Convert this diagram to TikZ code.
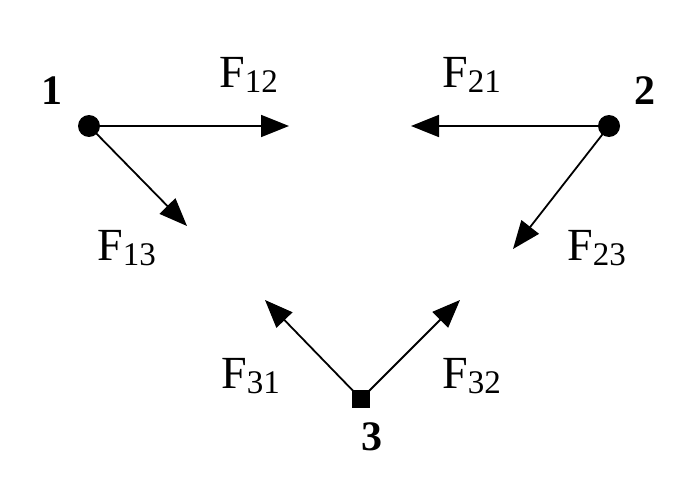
\documentclass[tikz,border=0pt]{standalone}
\usepackage{fontspec}
\setmainfont{Liberation Serif}
\usetikzlibrary{arrows.meta}
\newcommand{\Flab}[1]{{\fontsize{46}{50}\selectfont F\raisebox{-5pt}{\fontsize{33}{34}\selectfont #1}}}
\tikzset{
  force/.style={line width=1.8pt,-{Triangle[length=28pt,width=22pt]}},
  body/.style={circle,fill=black,inner sep=0pt,minimum size=22pt},
  sbody/.style={rectangle,fill=black,inner sep=0pt,minimum size=18pt},
  flabel/.style={anchor=base west,inner sep=0pt},
  num/.style={anchor=base west,inner sep=0pt,font=\fontsize{42}{46}\selectfont\bfseries}
}
\begin{document}
\begin{tikzpicture}[x=1pt,y=-1pt]
\useasboundingbox (0,0) rectangle (698,500);
\fill[white] (0,0) rectangle (698,500);
% bodies
\node[body] (b1) at (89,126) {};
\node[body] (b2) at (609,126) {};
\node[sbody] (b3) at (361,399) {};
% tips
\coordinate (t12) at (289,126);
\coordinate (t13) at (187,226);
\coordinate (t21) at (411,126);
\coordinate (t23) at (513,249);
\coordinate (t31) at (265,300);
\coordinate (t32) at (460,300);
% forces
\draw[force] (b1.center) -- (t12);
\draw[force] (b1.center) -- (t13);
\draw[force] (b2.center) -- (t21);
\draw[force] (b2.center) -- (t23);
\draw[force] (b3.center) -- (t31);
\draw[force] (b3.center) -- (t32);
% labels
\node[num] (n1) at (41,105) {1};
\node[num] (n2) at (634,105) {2};
\node[num] (n3) at (361,450) {3};
\node[flabel] (l12) at (219,88) {\Flab{12}};
\node[flabel] (l13) at (97,260) {\Flab{13}};
\node[flabel] (l21) at (442,88) {\Flab{21}};
\node[flabel] (l23) at (567,260) {\Flab{23}};
\node[flabel] (l31) at (221,388) {\Flab{31}};
\node[flabel] (l32) at (442,388) {\Flab{32}};
\end{tikzpicture}
\end{document}
